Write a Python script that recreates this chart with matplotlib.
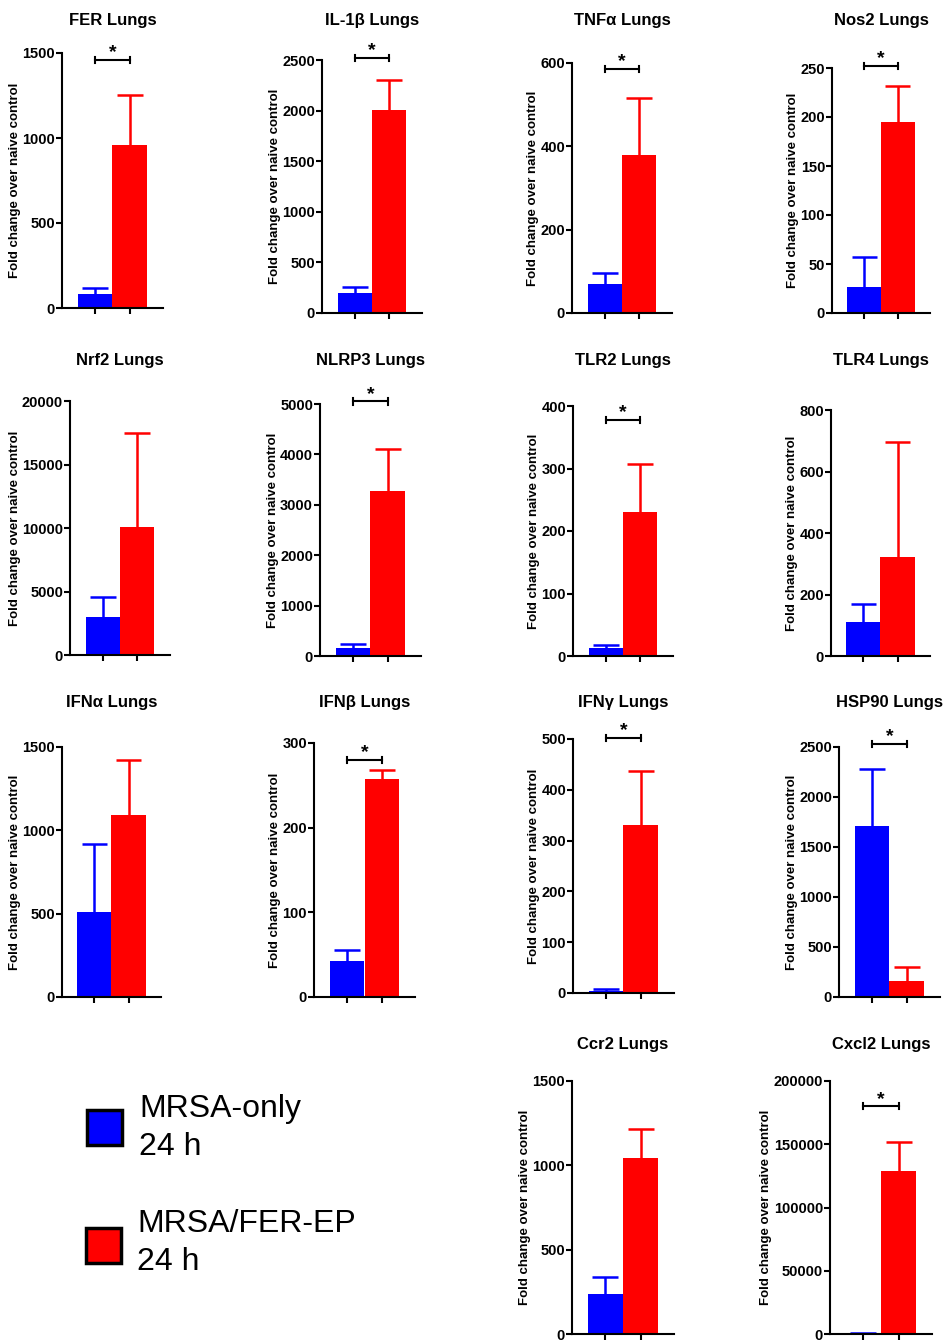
import matplotlib.pyplot as plt
from matplotlib.patches import Rectangle

plt.rcParams["font.family"] = ["Liberation Sans", "DejaVu Sans"]

# ---- data ----
titles = ["FER Lungs", "IL-1β Lungs", "TNFα Lungs", "Nos2 Lungs",
          "Nrf2 Lungs", "NLRP3 Lungs", "TLR2 Lungs", "TLR4 Lungs",
          "IFNα Lungs", "IFNβ Lungs", "IFNγ Lungs", "HSP90 Lungs",
          "Ccr2 Lungs", "Cxcl2 Lungs"]
groups = ["MRSA-only\n24 h", "MRSA/FER-EP\n24 h"]
mrsa_mean = [85, 200, 70, 27, 3000, 150, 13, 110, 510, 42, 3, 1710, 240, 600]
mrsa_err = [35, 55, 25, 30, 1600, 80, 4, 60, 410, 14, 4, 565, 95, 300]
fer_mean = [960, 2010, 380, 195, 10050, 3280, 230, 322, 1090, 258, 330, 160, 1045, 129000]
fer_err = [295, 290, 135, 37, 7450, 820, 77, 373, 330, 10, 107, 140, 170, 23000]
y_max = [1500, 2500, 600, 250, 20000, 5000, 400, 800, 1500, 300, 500, 2500, 1500, 200000]
y_step = [500, 500, 200, 50, 5000, 1000, 100, 200, 500, 100, 100, 500, 500, 50000]
signif = [True, True, True, True, False, True, True, False, False, True, True, True, False, True]
bracket_y = [1460, 2520, 586, 252, None, 5050, 378, None, None, 280, 502, 2530, None, 180000]

colors = ["#0000FF", "#FF0000"]

# ---- layout in pixels: (left, top, bottom, right) of each axes ----
W, H = 945, 1343
rects = [(62, 53, 308, 163), (322, 60, 313, 422), (572, 63, 313, 672), (832, 68, 313, 930),
         (70, 401, 655, 170), (320, 404, 656, 421), (573, 406, 656, 673), (831, 410, 656, 930),
         (62, 747, 997, 161), (314, 743, 997, 415), (573, 739, 993, 674), (839, 747, 997, 940),
         (572, 1081, 1334, 674), (830, 1081, 1334, 932)]
title_y = [20, 20, 20, 20, 361, 361, 361, 361, 703, 703, 703, 703, 1045, 1045]
cap_half = 0.37

fig = plt.figure(figsize=(W / 100, H / 100), dpi=100)

for i, t in enumerate(titles):
    l, tp, b, r = rects[i]
    ax = fig.add_axes([l / W, 1 - b / H, (r - l) / W, (b - tp) / H])
    means = [mrsa_mean[i], fer_mean[i]]
    errs = [mrsa_err[i], fer_err[i]]
    for j in range(2):
        top = means[j] + errs[j]
        ax.vlines(j, means[j], top, color=colors[j], lw=1.8, zorder=1)
        ax.hlines(top, j - cap_half, j + cap_half, color=colors[j], lw=1.8, zorder=1)
        ax.bar(j, means[j], width=1.0, color=colors[j], zorder=2)
    ax.set_xlim(-0.95, 1.95)
    ax.set_ylim(0, y_max[i])
    ax.set_yticks(range(0, y_max[i] + 1, y_step[i]))
    ax.set_xticks([0, 1])
    ax.set_xticklabels([])
    for s in ["top", "right"]:
        ax.spines[s].set_visible(False)
    for s in ["left", "bottom"]:
        ax.spines[s].set_linewidth(1.5)
    ax.tick_params(direction="out", length=4, width=1.5, labelsize=10.5, pad=1)
    for lab in ax.get_yticklabels():
        lab.set_fontweight("bold")
    ax.set_ylabel("Fold change over naive control", fontsize=9.5, fontweight="bold", labelpad=1)
    fig.text((l + r) / 2 / W, 1 - title_y[i] / H, t, ha="center", va="center",
             fontsize=12, fontweight="bold")
    if signif[i]:
        yb = bracket_y[i]
        tick = y_max[i] * 0.012
        ax.plot([0, 1], [yb, yb], color="black", lw=1.5, clip_on=False)
        ax.plot([0, 0], [yb - tick, yb + tick], color="black", lw=1.5, clip_on=False)
        ax.plot([1, 1], [yb - tick, yb + tick], color="black", lw=1.5, clip_on=False)
        ax.annotate("*", (0.5, yb), xytext=(0, -1), textcoords="offset points",
                    ha="center", va="bottom", fontsize=14, fontweight="bold",
                    annotation_clip=False)

# ---- legend drawn in figure pixels ----
sq = [(87, 1110), (86, 1228)]
text_x = [139, 137]
base1 = [1117, 1232]
for k, g in enumerate(groups):
    x0, y0 = sq[k]
    fig.patches.append(Rectangle((x0 / W, 1 - (y0 + 35) / H), 35 / W, 35 / H,
                                 transform=fig.transFigure, facecolor=colors[k],
                                 edgecolor="black", linewidth=2.5))
    lines = g.split("\n")
    for n, line in enumerate(lines):
        fig.text(text_x[k] / W, 1 - (base1[k] + 38 * n) / H, line, ha="left",
                 va="baseline", fontsize=23)

fig.savefig("out.png", dpi=100)
